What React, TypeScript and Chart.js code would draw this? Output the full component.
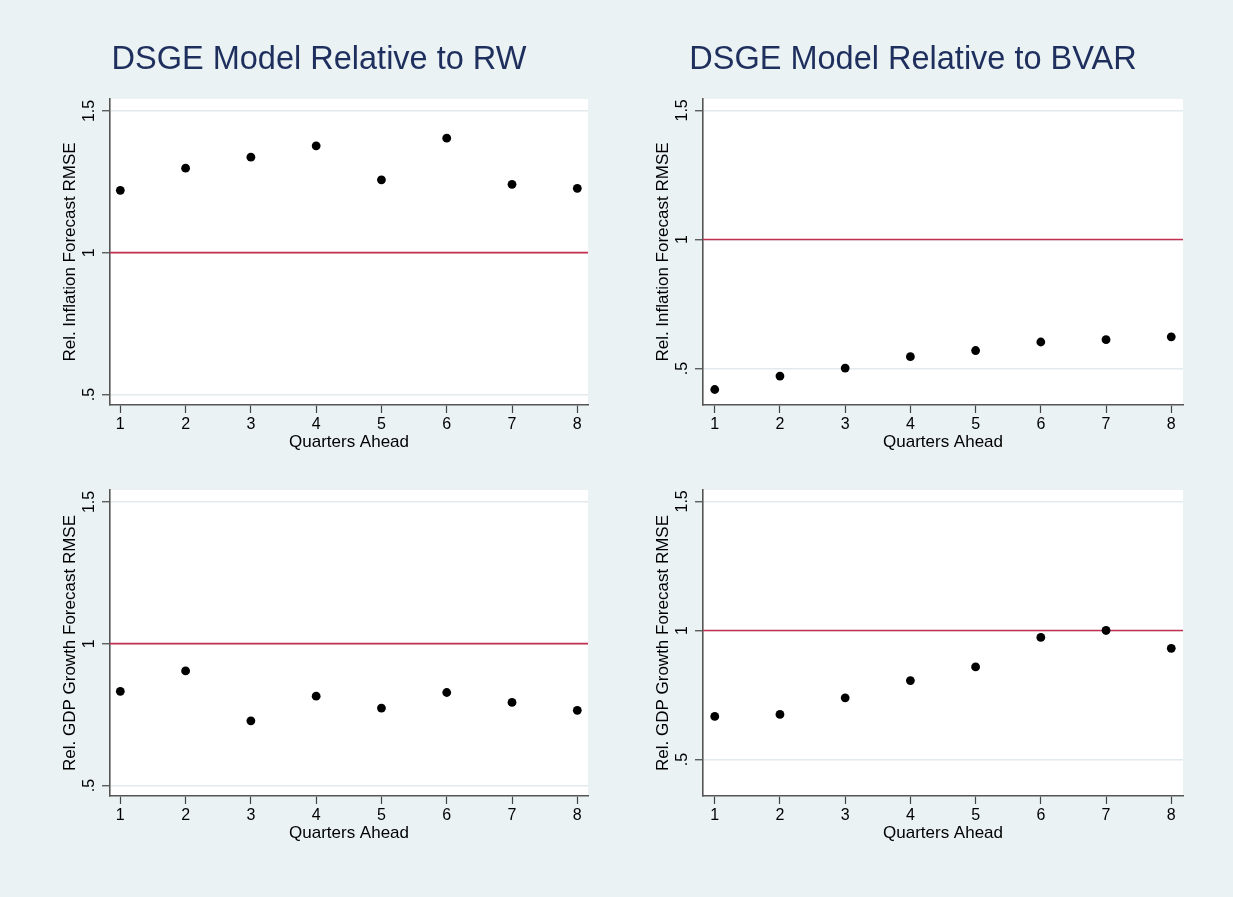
import React, { useEffect, useRef } from "react";
import { Chart, registerables } from "chart.js";

Chart.register(...registerables);

// ---- data ----
const QUARTERS = [1, 2, 3, 4, 5, 6, 7, 8];
const INFL_VS_RW = [1.22, 1.298, 1.337, 1.377, 1.257, 1.404, 1.241, 1.227];
const INFL_VS_BVAR = [0.419, 0.471, 0.502, 0.546, 0.57, 0.603, 0.612, 0.623];
const GDP_VS_RW = [0.832, 0.904, 0.728, 0.815, 0.773, 0.828, 0.793, 0.765];
const GDP_VS_BVAR = [0.667, 0.675, 0.739, 0.806, 0.859, 0.973, 1.0, 0.931];

const Y_TICKS = [0.5, 1, 1.5];
const Y_TICK_LABELS = [".5", "1", "1.5"];
const X_TICKS = QUARTERS;
const REF_VALUE = 1;

const TITLE_RW = "DSGE Model Relative to RW";
const TITLE_BVAR = "DSGE Model Relative to BVAR";
const Y_TITLE_INFL = "Rel. Inflation Forecast RMSE";
const Y_TITLE_GDP = "Rel. GDP Growth Forecast RMSE";
const X_TITLE = "Quarters Ahead";

const FONT = "'Liberation Sans', Arial, Helvetica, sans-serif";
const BG = "#EAF2F3";

const plotBg = {
  id: "plotBg",
  beforeDraw(chart: any) {
    const { ctx, chartArea: a } = chart;
    ctx.save();
    ctx.fillStyle = "#ffffff";
    ctx.fillRect(a.left, a.top, a.right - a.left, a.bottom - a.top);
    ctx.restore();
  },
};

const refLine = {
  id: "refLine",
  beforeDatasetsDraw(chart: any) {
    const { ctx, chartArea: a, scales } = chart;
    const y = scales.y.getPixelForValue(REF_VALUE);
    ctx.save();
    ctx.strokeStyle = "#C3304F";
    ctx.lineWidth = 1.7;
    ctx.beginPath();
    ctx.moveTo(a.left, y);
    ctx.lineTo(a.right, y);
    ctx.stroke();
    ctx.restore();
  },
};

type PanelProps = {
  left: number;
  top: number;
  width: number;
  height: number;
  title?: string;
  yTitle: string;
  values: number[];
  yMin: number;
  yMax: number;
  xMin: number;
  xMax: number;
  padTop: number;
  padRight: number;
};

function Panel(p: PanelProps) {
  const ref = useRef<HTMLCanvasElement | null>(null);
  useEffect(() => {
    if (!ref.current) return;
    const tickFont = { family: FONT, size: 16 };
    const titleFont = { family: FONT, size: 17 };
    const chart = new Chart(ref.current, {
      type: "scatter",
      data: {
        datasets: [
          {
            data: QUARTERS.map((q, i) => ({ x: q, y: p.values[i] })),
            pointRadius: 4.4,
            pointHoverRadius: 4.4,
            pointStyle: "circle",
            backgroundColor: "#000000",
            borderWidth: 0,
          },
        ],
      },
      options: {
        responsive: false,
        animation: false,
        devicePixelRatio: 1,
        events: [],
        layout: { padding: { left: 0, right: p.padRight, top: p.padTop, bottom: 0 } },
        plugins: {
          legend: { display: false },
          tooltip: { enabled: false },
          title: p.title
            ? {
                display: true,
                text: p.title,
                color: "#1E2F5E",
                font: { family: FONT, size: 32.5, weight: "normal" },
                padding: { top: 40.8, bottom: 19.2 },
              }
            : { display: false },
        },
        scales: {
          x: {
            type: "linear",
            min: p.xMin,
            max: p.xMax,
            afterBuildTicks: (s: any) => {
              s.ticks = X_TICKS.map((v) => ({ value: v }));
            },
            afterFit: (s: any) => {
              s.height = 55;
            },
            grid: {
              drawOnChartArea: false,
              drawTicks: true,
              tickLength: 8,
              tickColor: "#444444",
              tickWidth: 1.2,
            },
            border: { color: "#555555", width: 1.6 },
            ticks: {
              color: "#000000",
              font: tickFont,
              padding: 2.4,
              maxRotation: 0,
              autoSkip: false,
              callback: (v: any) => String(v),
            },
            title: {
              display: true,
              text: X_TITLE,
              color: "#000000",
              font: titleFont,
              padding: { top: 0, bottom: 7.1 },
            },
          },
          y: {
            type: "linear",
            min: p.yMin,
            max: p.yMax,
            afterBuildTicks: (s: any) => {
              s.ticks = Y_TICKS.map((v) => ({ value: v }));
            },
            afterFit: (s: any) => {
              s.width = 60;
            },
            grid: {
              color: "#E1EAED",
              lineWidth: 1.5,
              drawTicks: true,
              tickLength: 8,
              tickColor: "#444444",
              tickWidth: 1.2,
            },
            border: { color: "#555555", width: 1.6 },
            ticks: {
              color: "#000000",
              font: tickFont,
              padding: 1.4,
              minRotation: 90,
              maxRotation: 90,
              crossAlign: "center",
              autoSkip: false,
              callback: (v: any) => {
                const i = Y_TICKS.indexOf(Number(v));
                return i >= 0 ? Y_TICK_LABELS[i] : "";
              },
            },
            title: {
              display: true,
              text: p.yTitle,
              color: "#000000",
              font: titleFont,
              padding: { top: 9.8, bottom: 0 },
            },
          },
        },
      } as any,
      plugins: [plotBg, refLine],
    });
    return () => chart.destroy();
  }, []);
  return (
    <canvas
      ref={ref}
      width={p.width}
      height={p.height}
      style={{ position: "absolute", left: p.left, top: p.top, width: p.width, height: p.height }}
    />
  );
}

const LEFT_X = { xMin: 0.842, xMax: 8.164 };
const RIGHT_X = { xMin: 0.82, xMax: 8.18 };
const LEFT_Y = { yMin: 0.463, yMax: 1.542 };
const RIGHT_Y = { yMin: 0.359, yMax: 1.544 };

export default function App() {
  return (
    <div
      style={{
        position: "absolute",
        left: 0,
        top: 0,
        width: 1233,
        height: 897,
        background: BG,
        overflow: "hidden",
      }}
    >
      <Panel left={50} top={0} width={544} height={460} padTop={0} padRight={6} title={TITLE_RW} yTitle={Y_TITLE_INFL} values={INFL_VS_RW} {...LEFT_X} {...LEFT_Y} />
      <Panel left={643} top={0} width={548} height={460} padTop={0} padRight={8} title={TITLE_BVAR} yTitle={Y_TITLE_INFL} values={INFL_VS_BVAR} {...RIGHT_X} {...RIGHT_Y} />
      <Panel left={50} top={460} width={544} height={391} padTop={30} padRight={6} yTitle={Y_TITLE_GDP} values={GDP_VS_RW} {...LEFT_X} {...LEFT_Y} />
      <Panel left={643} top={460} width={548} height={391} padTop={30} padRight={8} yTitle={Y_TITLE_GDP} values={GDP_VS_BVAR} {...RIGHT_X} {...RIGHT_Y} />
    </div>
  );
}
